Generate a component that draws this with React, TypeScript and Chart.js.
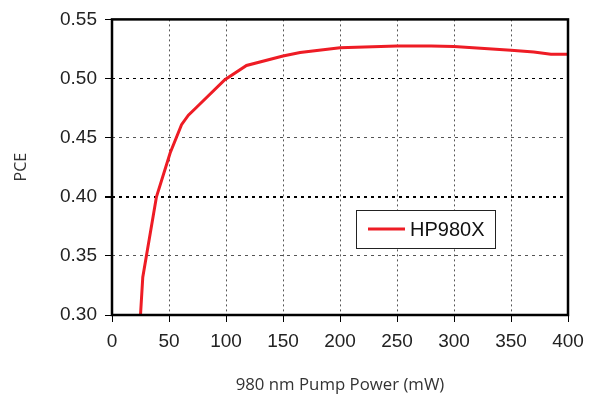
import React, { useEffect, useRef } from "react";
import { Chart, registerables } from "chart.js";

Chart.register(...registerables);

const seriesName = "HP980X";
const pumpPower = [25, 27, 39, 51, 61, 67, 74, 99, 118, 150, 165, 200, 250, 280, 300, 350, 370, 385, 400];
const pceValues = [0.3, 0.332, 0.4, 0.437, 0.461, 0.469, 0.4755, 0.499, 0.511, 0.519, 0.522, 0.526, 0.5275, 0.5275, 0.527, 0.524, 0.5225, 0.5205, 0.5205];
const xTicks = [0, 50, 100, 150, 200, 250, 300, 350, 400];
const yTicks = [0.3, 0.35, 0.4, 0.45, 0.5, 0.55];
const xTitle = "980 nm Pump Power (mW)";
const yTitle = "PCE";

const framePlugin = {
  id: "frameAndLegend",
  afterDatasetsDraw(chart: any) {
    const { ctx, chartArea } = chart;
    ctx.save();
    ctx.strokeStyle = "#000";
    ctx.lineWidth = 2.5;
    ctx.setLineDash([]);
    ctx.strokeRect(chartArea.left, chartArea.top, chartArea.right - chartArea.left, chartArea.bottom - chartArea.top);
    const bx = 356, by = 210, bw = 139, bh = 38;
    ctx.fillStyle = "#fff";
    ctx.fillRect(bx, by, bw, bh);
    ctx.lineWidth = 1;
    ctx.strokeStyle = "#222";
    ctx.strokeRect(bx + 0.5, by + 0.5, bw, bh);
    ctx.strokeStyle = "#ee1c25";
    ctx.lineWidth = 3;
    ctx.beginPath();
    ctx.moveTo(368, 229);
    ctx.lineTo(405, 229);
    ctx.stroke();
    ctx.fillStyle = "#111";
    ctx.font = '20px "Liberation Sans", Arial, sans-serif';
    ctx.textBaseline = "middle";
    ctx.textAlign = "left";
    ctx.fillText(seriesName, 410, 230);
    ctx.restore();
  },
};

export default function App() {
  const ref = useRef<HTMLCanvasElement | null>(null);
  useEffect(() => {
    if (!ref.current) return;
    const chart = new Chart(ref.current, {
      type: "line",
      data: {
        datasets: [
          {
            label: seriesName,
            data: pumpPower.map((x, i) => ({ x, y: pceValues[i] })),
            borderColor: "#ee1c25",
            borderWidth: 3,
            pointRadius: 0,
            tension: 0,
            fill: false,
          },
        ],
      },
      options: {
        animation: false,
        responsive: false,
        maintainAspectRatio: false,
        layout: { padding: { left: 0, right: 35, top: 17, bottom: 0 } },
        plugins: { legend: { display: false }, tooltip: { enabled: false } },
        scales: {
          x: {
            type: "linear",
            min: 0,
            max: 400,
            afterBuildTicks: (axis: any) => {
              axis.ticks = xTicks.map((v) => ({ value: v }));
            },
            afterFit: (axis: any) => {
              axis.height = 83;
            },
            grid: {
              color: (c: any) => (c.tick && (c.tick.value === 0 || c.tick.value === 400) ? "rgba(0,0,0,0)" : "#555"),
              lineWidth: 1,
              tickColor: "#000",
              tickLength: 7,
              tickBorderDash: [],
            } as any,
            border: { display: false, dash: [2, 3] },
            ticks: {
              color: "#222",
              font: { family: '"Liberation Sans", Arial, sans-serif', size: 19 },
              padding: 8,
              maxRotation: 0,
            },
            title: {
              display: true,
              text: xTitle,
              color: "#333",
              font: { family: '"Open Sans", sans-serif', size: 16.8 },
              padding: { top: 4, bottom: 3 },
            },
          },
          y: {
            type: "linear",
            min: 0.3,
            max: 0.55,
            afterBuildTicks: (axis: any) => {
              axis.ticks = yTicks.map((v) => ({ value: v }));
            },
            afterFit: (axis: any) => {
              axis.width = 112;
            },
            grid: {
              color: (c: any) => {
                const v = c.tick ? Math.round(c.tick.value * 100) : 0;
                if (v === 30 || v === 55) return "rgba(0,0,0,0)";
                if (v === 40 || v === 50) return "#000";
                return "#555";
              },
              lineWidth: (c: any) => {
                const v = c.tick ? Math.round(c.tick.value * 100) : 0;
                return v === 40 ? 2 : 1;
              },
              tickColor: "#000",
              tickLength: 7,
              tickBorderDash: [],
            } as any,
            border: { display: false, dash: [3, 4] },
            ticks: {
              color: "#222",
              font: { family: '"Liberation Sans", Arial, sans-serif', size: 19 },
              padding: 8,
              callback: (v: any) => Number(v).toFixed(2),
            },
            title: {
              display: true,
              text: yTitle,
              color: "#333",
              font: { family: '"Open Sans", sans-serif', size: 16 },
              padding: { top: 12, bottom: 4 },
            },
          },
        },
      },
      plugins: [framePlugin],
    });
    return () => chart.destroy();
  }, []);
  return (
    <div style={{ position: "fixed", left: 0, top: 0, width: 603, height: 398, background: "#fff" }}>
      <canvas ref={ref} width={603} height={398} style={{ width: 603, height: 398, display: "block" }} />
    </div>
  );
}
